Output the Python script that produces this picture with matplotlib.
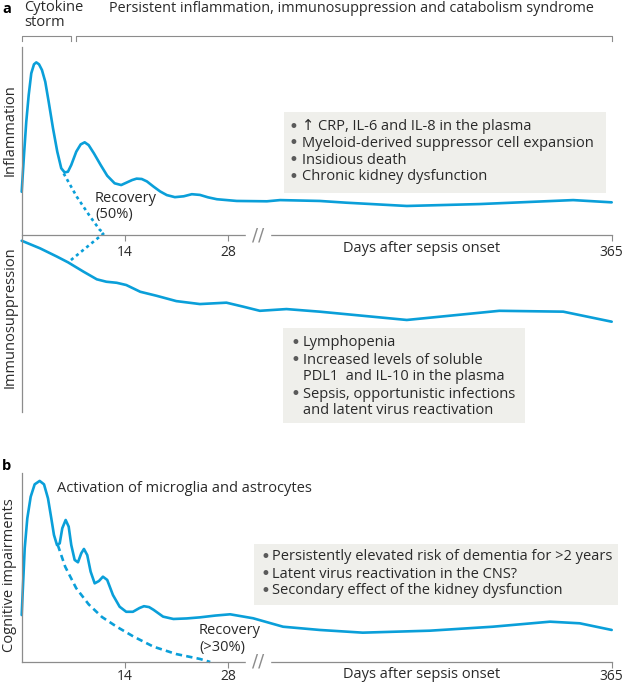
import numpy as np
import matplotlib
matplotlib.use("Agg")
import matplotlib.pyplot as plt
from matplotlib.patches import Rectangle

plt.rcParams['font.family'] = ['Open Sans', 'DejaVu Sans']

# ---- data (days after onset, relative level) ----
inflam_days = [0, 0.31, 0.62, 0.95, 1.30, 1.67, 1.98, 2.35, 2.75, 3.20,
               3.66, 4.25, 4.83, 5.37, 5.83, 6.28, 6.73, 7.41, 8.01, 8.55,
               9.09, 9.81, 10.72, 11.61, 12.62, 13.51, 14.33, 15.0, 15.6, 16.3,
               17.0, 17.9, 18.8, 19.7, 20.8, 22.0, 23.1, 24.2, 25.3, 26.5,
               29.2, 52, 64, 100, 124, 179, 245, 330, 365]
inflam_level = [25, 46.2, 65.5, 80.9, 93.5, 98.7, 99.8, 98.7, 95.4, 88.6,
                77.1, 61.7, 48.2, 38.6, 36.2, 36.6, 40.5, 48.2, 52.4, 53.6,
                52.0, 47.2, 40.5, 34.3, 29.9, 28.9, 30.5, 31.8, 32.6, 32.4,
                31, 28, 25.2, 23.1, 21.9, 22.4, 23.6, 23.2, 21.8, 20.7,
                19.7, 19.5, 20.2, 19.7, 18.7, 16.8, 17.9, 20.2, 18.9]

immuno_days = [0, 2.5, 4.8, 6.3, 8.4, 10.2, 11.5, 12.9, 14.2, 16.1, 18.3, 21.0,
               24.2, 27.8, 30.5, 45.6, 69.8, 100, 179, 263, 321, 365]
immuno_level = [-3.3, -7.7, -12.5, -15.8, -21.2, -25.6, -27.0, -27.6, -28.9, -32.8,
                -35.1, -38.2, -39.9, -39.1, -41.4, -43.8, -42.8, -44.3, -49.1,
                -43.8, -44.3, -50.1]

recovery_a_days = [5.7, 7.5, 9.3, 10.6, 11.2, 6.3]
recovery_a_level = [35.6, 22, 10.6, 3, 1.2, -15.8]

cog_days = [0, 0.18, 0.41, 0.76, 1.22, 1.76, 2.44, 3.03, 3.57, 4.02,
            4.38, 4.79, 5.16, 5.51, 5.97, 6.38, 6.73, 7.19, 7.64, 8.09,
            8.45, 8.90, 9.36, 9.91, 10.49, 11.03, 11.61, 12.39, 13.30, 14.19,
            15.10, 16.0, 16.6, 17.3, 17.9, 19.2, 20.6, 22.4, 24.2, 26.3,
            28.3, 39.5, 66.7, 100, 139, 200, 257, 309, 336, 365]
cog_level = [26.1, 42.8, 63.2, 79.8, 91.8, 98.7, 100.6, 98.7, 90.9, 79.8,
             70.6, 65, 65.9, 74.3, 78.9, 75.2, 65, 56.7, 55.4, 60.4,
             62.8, 59.4, 50.2, 43.7, 45, 47.4, 45.6, 37.2, 30.7, 27.9,
             27.9, 30, 31, 30.5, 29, 25.2, 23.9, 24.2, 24.8, 25.8,
             26.5, 24.3, 19.6, 17.8, 16.3, 17.4, 19.6, 22.4, 21.5, 17.8]

recovery_b_days = [4.9, 5.9, 7.4, 9.1, 10.9, 12.9, 15.2, 17.9, 21.0, 24.2, 25.6]
recovery_b_level = [65, 53, 41, 32, 25, 19.6, 14.1, 8.5, 4.4, 1.7, 0]

tick_days = [14, 28, 365]
phases = [("Cytokine\nstorm", 0, 6.7),
          ("Persistent inflammation, immunosuppression and catabolism syndrome", 7.4, 365)]
box_inflam = ["\u2191 CRP, IL-6 and IL-8 in the plasma",
              "Myeloid-derived suppressor cell expansion",
              "Insidious death",
              "Chronic kidney dysfunction"]
box_immuno = [["Lymphopenia"],
              ["Increased levels of soluble", "PDL1  and IL-10 in the plasma"],
              ["Sepsis, opportunistic infections", "and latent virus reactivation"]]
box_cog = ["Persistently elevated risk of dementia for >2 years",
           "Latent virus reactivation in the CNS?",
           "Secondary effect of the kidney dysfunction"]

# ---- style ----
BLUE = '#0a9fd9'
GRAY = '#8c8c8c'
TXT = '#2a2a2a'
BOXC = '#efefeb'
FS = 10.5
W, H = 623, 685
BREAK_DAY = 44


def fwd(d):
    d = np.asarray(d, dtype=float)
    return np.where(d <= 30, d, 30 + (d - 30) * 0.1496)


def inv(u):
    u = np.asarray(u, dtype=float)
    return np.where(u <= 30, u, 30 + (u - 30) / 0.1496)


def fx(px):
    return px / W


def fy(py):
    return 1 - py / H


def bullet(x, y):
    fig.text(fx(x), y, "\u2022", ha='center', va='center', fontsize=12,
             color='#5a5a5a', family='DejaVu Sans')


fig = plt.figure(figsize=(W / 100, H / 100), dpi=100)


def setup(ax, pad):
    ax.set_xscale('function', functions=(fwd, inv))
    ax.set_xlim(0, 365)
    for s in ['top', 'right']:
        ax.spines[s].set_visible(False)
    ax.spines['left'].set_color(GRAY)
    ax.spines['left'].set_linewidth(0.9)
    ax.spines['bottom'].set_color(GRAY)
    ax.spines['bottom'].set_linewidth(0.9)
    ax.spines['bottom'].set_position(('data', 0))
    ax.set_yticks([])
    ax.set_xticks(tick_days)
    ax.set_xticklabels([str(t) for t in tick_days])
    ax.xaxis.set_minor_locator(matplotlib.ticker.NullLocator())
    ax.tick_params(axis='x', direction='out', length=4, width=0.8, color=GRAY,
                   pad=pad, labelsize=10, labelcolor=TXT)
    ax.patch.set_visible(False)
    # axis break
    ax.text(BREAK_DAY, 0, "//", ha='center', va='center', fontsize=13, color=GRAY,
            family='DejaVu Sans', backgroundcolor='white', zorder=5)


# ---- panel a ----
ax_a = fig.add_axes([fx(21.7), fy(412), fx(611.7 - 21.7), (412 - 47) / H])
setup(ax_a, 3)
ax_a.set_ylim(-102.3, 108.7)
ax_a.plot(inflam_days, inflam_level, color=BLUE, lw=1.9, solid_joinstyle='round',
          solid_capstyle='round', clip_on=False)
ax_a.plot(immuno_days, immuno_level, color=BLUE, lw=1.9, solid_joinstyle='round',
          solid_capstyle='round', clip_on=False)
ax_a.plot(recovery_a_days, recovery_a_level, color=BLUE, lw=1.9,
          linestyle=(0, (1.2, 1.3)), clip_on=False)

# phase brackets
tr = ax_a.get_xaxis_transform()
y_br = (412 - 36) / 365
y_end = (412 - 41) / 365
for label, d0, d1 in phases:
    ax_a.plot([d0, d0, d1, d1], [y_end, y_br, y_br, y_end], color=GRAY, lw=0.8,
              transform=tr, clip_on=False)
fig.text(fx(24), fy(15), phases[0][0], ha='left', va='center', fontsize=FS,
         color=TXT, linespacing=1.0)
fig.text(fx(109), fy(9), phases[1][0], ha='left', va='center', fontsize=10.4,
         color=TXT)

fig.text(fx(2), fy(9), "a", ha='left', va='center', fontsize=FS, fontweight='bold',
         color='black')
fig.text(fx(2), fy(466), "b", ha='left', va='center', fontsize=FS, fontweight='bold',
         color='black')

fig.text(fx(10), fy(130), "Inflammation", rotation=90, ha='center', va='center',
         fontsize=FS, color=TXT)
fig.text(fx(10), fy(317), "Immunosuppression", rotation=90, ha='center', va='center',
         fontsize=FS, color=TXT)
fig.text(fx(422), fy(248), "Days after sepsis onset", ha='center', va='center',
         fontsize=FS, color=TXT)
fig.text(fx(95), fy(198), "Recovery", ha='left', va='center', fontsize=FS, color=TXT)
fig.text(fx(95), fy(215), "(50%)", ha='left', va='center', fontsize=FS, color=TXT)

# box inflammation
fig.add_artist(Rectangle((fx(284), fy(192.5)), fx(606 - 284), (192.5 - 112) / H,
                         facecolor=BOXC, edgecolor='none', transform=fig.transFigure))
for i, line in enumerate(box_inflam):
    y = fy(126.7 + 16.7 * i)
    bullet(293, y)
    fig.text(fx(302), y, line, ha='left', va='center', fontsize=FS, color=TXT)

# box immunosuppression
fig.add_artist(Rectangle((fx(283), fy(423)), fx(525 - 283), (423 - 328) / H,
                         facecolor=BOXC, edgecolor='none', transform=fig.transFigure))
row = 0
for item in box_immuno:
    for j, line in enumerate(item):
        y = fy(343 + 17 * row)
        if j == 0:
            bullet(295, y)
        fig.text(fx(303), y, line, ha='left', va='center', fontsize=FS, color=TXT)
        row += 1

# ---- panel b ----
ax_b = fig.add_axes([fx(21.7), fy(662), fx(611.7 - 21.7), (662 - 473) / H])
setup(ax_b, 1)
ax_b.set_ylim(0, 105)
ax_b.plot(cog_days, cog_level, color=BLUE, lw=1.9, solid_joinstyle='round',
          solid_capstyle='round', clip_on=False)
ax_b.plot(recovery_b_days, recovery_b_level, color=BLUE, lw=1.9,
          linestyle=(0, (2.4, 1.6)), clip_on=False)

fig.text(fx(10), fy(575), "Cognitive impairments", rotation=90, ha='center',
         va='center', fontsize=FS, color=TXT)
fig.text(fx(57), fy(489), "Activation of microglia and astrocytes", ha='left',
         va='center', fontsize=FS, color=TXT)
fig.text(fx(199), fy(630), "Recovery", ha='left', va='center', fontsize=FS, color=TXT)
fig.text(fx(199), fy(647), "(>30%)", ha='left', va='center', fontsize=FS, color=TXT)
fig.text(fx(422), fy(674), "Days after sepsis onset", ha='center', va='center',
         fontsize=FS, color=TXT)

fig.add_artist(Rectangle((fx(254), fy(605)), fx(618 - 254), (605 - 544) / H,
                         facecolor=BOXC, edgecolor='none', transform=fig.transFigure))
for i, line in enumerate(box_cog):
    y = fy(557 + 17 * i)
    bullet(265, y)
    fig.text(fx(272), y, line, ha='left', va='center', fontsize=FS, color=TXT)

fig.savefig("out.png", dpi=100)
